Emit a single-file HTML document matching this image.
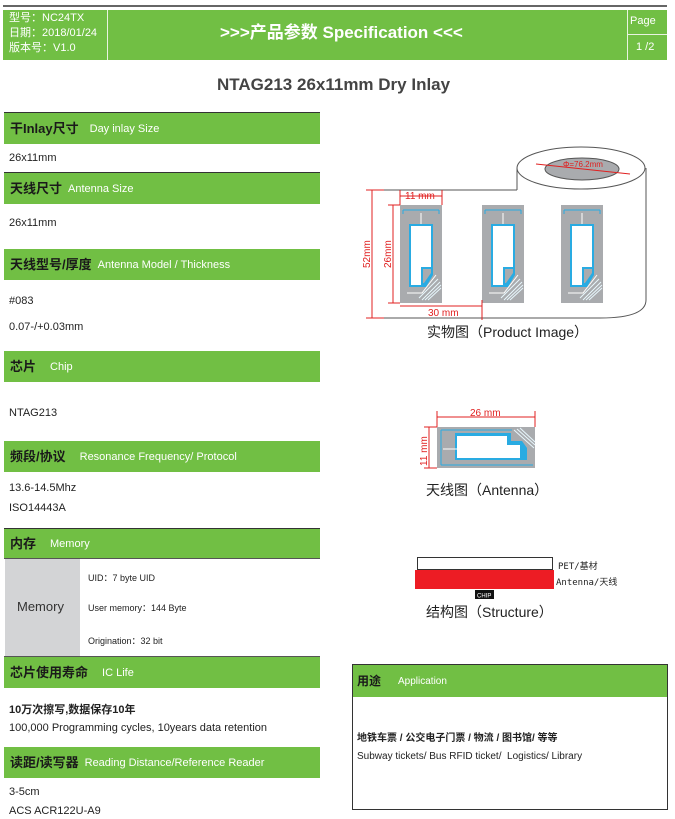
<!DOCTYPE html>
<html><head><meta charset="utf-8"><style>
*{margin:0;padding:0;box-sizing:border-box}
body{width:675px;height:819px;background:#fff;position:relative;font-family:"Liberation Sans","Noto Sans CJK SC",sans-serif;color:#222;overflow:hidden}
.a{position:absolute;white-space:nowrap}
.g{position:absolute;left:4px;width:316px;height:31px;background:#71bf44;display:flex;align-items:center;padding-left:6px}
.g b{font-size:13px;color:#1a1a1a;line-height:16px}
.g span{font-size:11px;color:#fff;line-height:14px}
.t{position:absolute;left:9px;font-size:11px;color:#222}
</style></head><body>
<div class="a" style="left:3px;top:5px;width:664px;height:2px;background:#666"></div>
<div class="a" style="left:3px;top:10px;width:664px;height:50px;background:#71bf44"></div>
<div class="a" style="left:107px;top:10px;width:1px;height:50px;background:#e8f3e0"></div>
<div class="a" style="left:627px;top:10px;width:1px;height:50px;background:#e8f3e0"></div>
<div class="a" style="left:627px;top:34px;width:40px;height:1px;background:#e8f3e0"></div>
<div class="a" style="left:9px;top:11px;font-size:11px;color:#fff;line-height:15px">型号：NC24TX<br>日期：2018/01/24<br>版本号：V1.0</div>
<div class="a" style="left:220px;top:22px;font-size:17px;font-weight:bold;color:#fff;line-height:22px">&gt;&gt;&gt;产品参数 Specification &lt;&lt;&lt;</div>
<div class="a" style="left:630px;top:15px;font-size:11px;color:#fff">Page</div>
<div class="a" style="left:636px;top:41px;font-size:11px;color:#fff">1 /2</div>
<div class="a" style="left:217px;top:75px;font-size:17px;font-weight:bold;color:#444">NTAG213 26x11mm Dry Inlay</div>

<div class="a" style="left:4px;top:112px;width:316px;height:1px;background:#333"></div>
<div class="g" style="top:113px"><b>干Inlay尺寸</b><span style="margin-left:11px">Day inlay Size</span></div>
<div class="t" style="top:152px">26x11mm</div>
<div class="a" style="left:4px;top:172px;width:316px;height:1px;background:#333"></div>
<div class="g" style="top:173px"><b>天线尺寸</b><span style="margin-left:6px">Antenna Size</span></div>
<div class="t" style="top:217px">26x11mm</div>
<div class="g" style="top:249px"><b>天线型号/厚度</b><span style="margin-left:6px">Antenna Model / Thickness</span></div>
<div class="t" style="top:295px">#083</div>
<div class="t" style="top:321px">0.07-/+0.03mm</div>
<div class="g" style="top:351px"><b>芯片</b><span style="margin-left:14px">Chip</span></div>
<div class="t" style="top:407px">NTAG213</div>
<div class="g" style="top:441px"><b>频段/协议</b><span style="margin-left:14px">Resonance Frequency/ Protocol</span></div>
<div class="t" style="top:482px">13.6-14.5Mhz</div>
<div class="t" style="top:502px">ISO14443A</div>
<div class="a" style="left:4px;top:528px;width:316px;height:1px;background:#333"></div>
<div class="g" style="top:529px;height:30px"><b>内存</b><span style="margin-left:14px">Memory</span></div>
<div class="a" style="left:4px;top:558px;width:316px;height:1px;background:#555"></div>
<div class="a" style="left:5px;top:559px;width:75px;height:98px;background:#d3d4d6"></div>
<div class="a" style="left:17px;top:599px;font-size:13px;color:#333">Memory</div>
<div class="a" style="left:88px;top:571px;font-size:9px">UID：7 byte UID</div>
<div class="a" style="left:88px;top:601px;font-size:9px">User memory：144 Byte</div>
<div class="a" style="left:88px;top:634px;font-size:9px">Origination：32 bit</div>
<div class="a" style="left:4px;top:656px;width:316px;height:1px;background:#555"></div>
<div class="g" style="top:657px"><b>芯片使用寿命</b><span style="margin-left:14px">IC Life</span></div>
<div class="a" style="left:9px;top:701px;font-size:11px;font-weight:bold">10万次擦写,数据保存10年</div>
<div class="t" style="top:722px">100,000 Programming cycles, 10years data retention</div>
<div class="g" style="top:747px"><b>读距/读写器</b><span style="margin-left:6px">Reading Distance/Reference Reader</span></div>
<div class="t" style="top:786px">3-5cm</div>
<div class="t" style="top:805px">ACS ACR122U-A9</div>

<div class="a" style="left:352px;top:664px;width:316px;height:146px;border:1px solid #333"></div>
<div class="a" style="left:353px;top:665px;width:314px;height:32px;background:#71bf44"></div>
<div class="a" style="left:357px;top:673px;font-size:12px;font-weight:bold;color:#1a1a1a;line-height:16px">用途</div>
<div class="a" style="left:398px;top:676px;font-size:10px;color:#fff">Application</div>
<div class="a" style="left:357px;top:729px;font-size:10px;font-weight:bold">地铁车票 / 公交电子门票 / 物流 / 图书馆/ 等等</div>
<div class="a" style="left:357px;top:751px;font-size:10px">Subway tickets/ Bus RFID ticket/&nbsp; Logistics/ Library</div>

<svg class="a" style="left:0;top:0" width="675" height="819">
<defs>
<g id="inl">
<rect x="0" y="0" width="42" height="98" fill="#a9abae"/>
<path d="M3 5H39M3 5v4M39 5v4" stroke="#29abe2" stroke-width="1" fill="none"/>
<line x1="21" y1="8" x2="21" y2="20" stroke="#fff" stroke-width="1"/>
<path d="M9 19H33V70L26 82H9Z" fill="#29abe2"/>
<path d="M11 21H31V62H21V80H11Z" fill="#fff"/>
<path d="M23 64H31V68L24 78H23Z" fill="#a9abae"/>
<path d="M22 95L40 77M25 95L41 80M28 95L41 83M19 93L38 74" stroke="#e8f7fd" stroke-width="1"/>
<path d="M7 88H22L36 70" stroke="#fff" stroke-width="1" fill="none"/>
</g>
</defs>
<path d="M517 168V190M646 168V300Q646 318 600 318" stroke="#555" fill="none" stroke-width="1"/>
<ellipse cx="581" cy="168" rx="64" ry="21" fill="#fff" stroke="#555"/>
<ellipse cx="582" cy="169" rx="37" ry="11" fill="#a9abae" stroke="#555"/>
<line x1="384" y1="190" x2="517" y2="190" stroke="#555"/>
<line x1="384" y1="318" x2="600" y2="318" stroke="#555"/>
<line x1="536" y1="164" x2="630" y2="174" stroke="#e02020"/>
<text x="563" y="167" font-size="8" fill="#e02020" font-family="Liberation Sans">Φ=76.2mm</text>
<use href="#inl" x="400" y="205"/>
<use href="#inl" x="482" y="205"/>
<use href="#inl" x="561" y="205"/>
<g stroke="#e02020" fill="none" stroke-width="1">
<path d="M372 190V318M366 190H384M366 318H384"/>
<path d="M393 205V303M388 205H400M388 303H400"/>
<path d="M400 196H442M400 190V205M442 190V205"/>
<path d="M400 306H482M482 300V320"/>
<path d="M437 417H535M437 411V427M535 411V427"/>
<path d="M429 427V468M424 427H437M424 468H437"/>
</g>
<text x="405" y="199" font-size="10" fill="#e02020" font-family="Liberation Sans">11 mm</text>
<text x="428" y="316" font-size="10" fill="#e02020" font-family="Liberation Sans">30 mm</text>
<text transform="translate(370,268) rotate(-90)" font-size="10" fill="#e02020" font-family="Liberation Sans">52mm</text>
<text transform="translate(391,268) rotate(-90)" font-size="10" fill="#e02020" font-family="Liberation Sans">26mm</text>
<text x="470" y="416" font-size="10" fill="#e02020" font-family="Liberation Sans">26 mm</text>
<text transform="translate(427,466) rotate(-90)" font-size="10" fill="#e02020" font-family="Liberation Sans">11 mm</text>
<rect x="437" y="427" width="98" height="41" fill="#a9abae"/>
<path d="M441 430H512M441 430V465M441 465H533" stroke="#29abe2" fill="none"/>
<path d="M455 433H511V441H522L527 448V460H455Z" fill="#29abe2"/>
<path d="M457 436H507V445H520V458H457Z" fill="#fff"/>
<line x1="443" y1="449" x2="457" y2="449" stroke="#fff"/>
<path d="M514 430L534 448M517 429L535 445M520 428L535 442" stroke="#e8f7fd"/>
<rect x="417.5" y="557.5" width="135" height="12" fill="#fff" stroke="#333"/>
<rect x="415" y="570" width="139" height="19" fill="#ed1c24"/>
<rect x="475" y="590" width="19" height="9" fill="#111"/>
<text x="477" y="597.5" font-size="6" fill="#fff" font-family="Liberation Sans">CHIP</text>
</svg>
<div class="a" style="left:558px;top:559px;font-size:9px;font-family:'DejaVu Sans Mono','Noto Sans CJK SC',monospace">PET/基材</div>
<div class="a" style="left:556px;top:575px;font-size:9px;font-family:'DejaVu Sans Mono','Noto Sans CJK SC',monospace">Antenna/天线</div>
<div class="a" style="left:427px;top:323px;font-size:14px;color:#222;line-height:18px">实物图（Product Image）</div>
<div class="a" style="left:426px;top:481px;font-size:14px;color:#222;line-height:18px">天线图（Antenna）</div>
<div class="a" style="left:426px;top:603px;font-size:14px;color:#222;line-height:18px">结构图（Structure）</div>
</body></html>
